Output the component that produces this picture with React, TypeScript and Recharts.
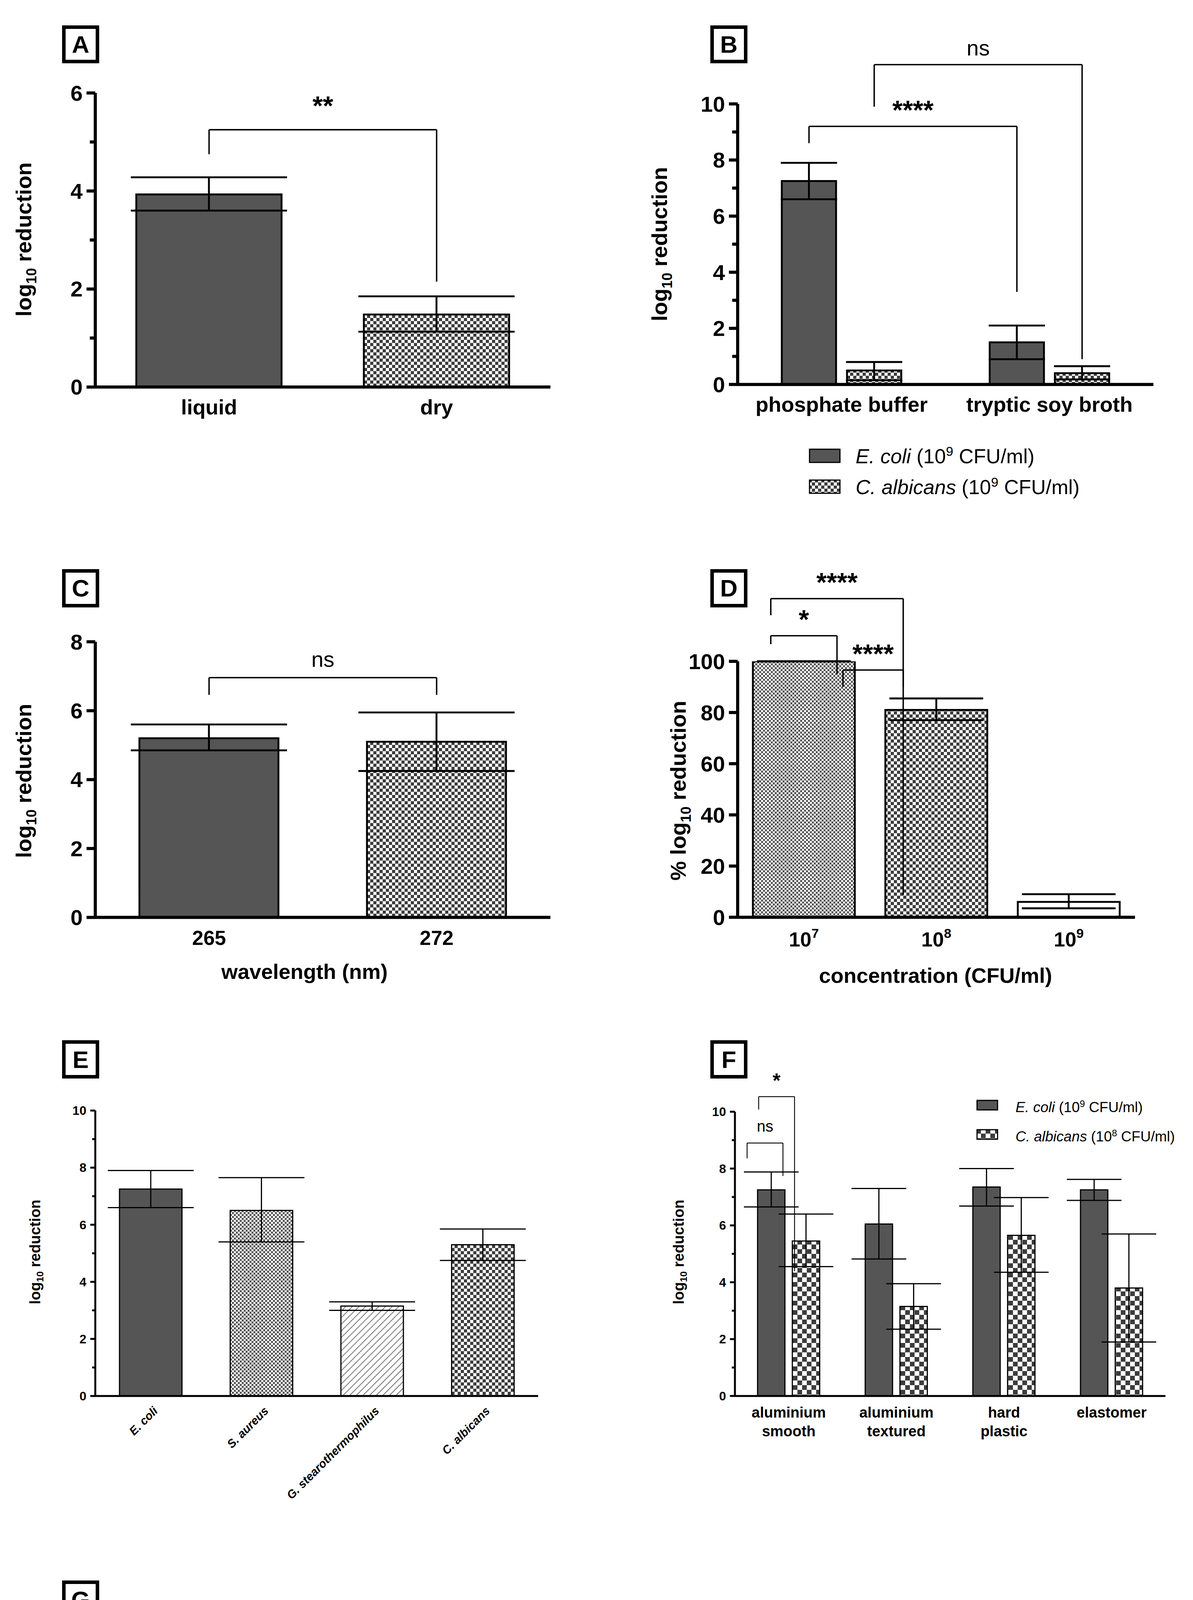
import React from 'react';
import { BarChart, Bar, XAxis, YAxis, ErrorBar, Cell, ReferenceLine, ReferenceDot } from 'recharts';

const S = 3.15;
const FONT = '"Liberation Sans", Arial, sans-serif';

// ---------- data ----------
const aCats = ['liquid', 'dry'];
const aVals = [3.93, 1.48];
const aLo = [3.6, 1.13];
const aHi = [4.28, 1.85];

const bCats = ['phosphate buffer', 'tryptic soy broth'];
const bEcoli = [7.25, 1.5];
const bEcoliLo = [6.6, 0.9];
const bEcoliHi = [7.9, 2.1];
const bCalb = [0.5, 0.4];
const bCalbLo = [0.15, 0.18];
const bCalbHi = [0.8, 0.65];

const cCats = ['265', '272'];
const cVals = [5.2, 5.1];
const cLo = [4.85, 4.25];
const cHi = [5.6, 5.95];

const dCats = ['7', '8', '9'];
const dVals = [100, 81, 6];
const dLo = [100, 77, 3.5];
const dHi = [100, 85.5, 9];

const eCats = ['E. coli', 'S. aureus', 'G. stearothermophilus', 'C. albicans'];
const eVals = [7.25, 6.5, 3.15, 5.3];
const eLo = [6.6, 5.4, 3.0, 4.75];
const eHi = [7.9, 7.65, 3.3, 5.85];

const fCats = ['aluminium\nsmooth', 'aluminium\ntextured', 'hard\nplastic', 'elastomer'];
const fEcoli = [7.25, 6.05, 7.35, 7.25];
const fEcoliLo = [6.65, 4.82, 6.68, 6.88];
const fEcoliHi = [7.88, 7.3, 8.0, 7.62];
const fCalb = [5.45, 3.15, 5.65, 3.8];
const fCalbLo = [4.55, 2.35, 4.35, 1.9];
const fCalbHi = [6.4, 3.95, 6.98, 5.7];

const gCats = ['without shading', 'with shading'];
const gVals = [7.45, 6.95];
const gLo = [6.9, 5.8];
const gHi = [8.0, 8.2];

const DARK = '#555555';

type Series = { vals: number[]; lo: number[]; hi: number[]; fills: string[] };
type Bracket = { a: [number, number]; b: [number, number]; top: number; y1: number; y2: number; text: string; ty: number; fs: number; bold?: boolean };

function Panel(p: {
  plot: [number, number, number, number];
  cats: string[];
  series: Series[];
  yMax: number;
  ticks: number[];
  major: (v: number) => boolean;
  barSize: number;
  barGap?: number;
  brackets?: Bracket[];
  tickFs: number;
  axisW: number;
  capW: number;
  xTick: (props: any) => any;
}) {
  const [l, t, r, b] = p.plot.map((v) => v * S);
  const M = 320;
  const W = r - l + 2 * M;
  const H = b - t + 2 * M;
  const n = p.cats.length;
  const band = (r - l) / n;
  const gap = p.barGap ?? 0;
  const ns = p.series.length;
  const pos = (c: number, s: number) => {
    if (ns === 1) return (c + 0.5) / n;
    const off = ((s === 0 ? -1 : 1) * (p.barSize + gap)) / 2;
    return (c + 0.5 + off / band) / n;
  };
  const data = p.cats.map((name, i) => {
    const row: any = { name };
    p.series.forEach((s, k) => {
      row['v' + k] = s.vals[i];
      row['e' + k] = [s.vals[i] - s.lo[i], s.hi[i] - s.vals[i]];
    });
    return row;
  });
  const YTick = (props: any) => {
    const { x, y, payload } = props;
    const maj = p.major(payload.value);
    const tl = maj ? p.tickFs * 0.4 : p.tickFs * 0.25;
    return (
      <g>
        <line x1={x} x2={x - tl} y1={y} y2={y} stroke="#000" strokeWidth={p.axisW} />
        {maj && (
          <text x={x - tl - 10} y={y} dy="0.35em" textAnchor="end" fontSize={p.tickFs} fontWeight="bold" fontFamily={FONT} fill="#000">
            {payload.value}
          </text>
        )}
      </g>
    );
  };
  return (
    <div style={{ position: 'absolute', left: l - M, top: t - M }}>
      <BarChart width={W} height={H} data={data} margin={{ top: M, left: M - 1, right: M, bottom: M - 1 }} barGap={gap} barCategoryGap={0}>
        <XAxis dataKey="name" height={1} tickSize={0} tickMargin={0} interval={0} axisLine={{ stroke: '#000', strokeWidth: p.axisW }} tickLine={false} tick={p.xTick} />
        <XAxis xAxisId="n" type="number" domain={[0, 1]} hide allowDataOverflow />
        <YAxis width={1} domain={[0, p.yMax]} ticks={p.ticks} interval={0} allowDataOverflow tickSize={0} tickMargin={0} tickLine={false} axisLine={{ stroke: '#000', strokeWidth: p.axisW }} tick={YTick} />
        {p.series.map((s, k) => (
          <Bar key={k} dataKey={'v' + k} barSize={p.barSize} isAnimationActive={false} stroke="#000" strokeWidth={p.axisW * 0.6}>
            {p.cats.map((_, i) => (
              <Cell key={i} fill={s.fills[i % s.fills.length]} />
            ))}
            <ErrorBar dataKey={'e' + k} width={p.capW} stroke="#000" strokeWidth={p.axisW * 0.6} direction="y" />
          </Bar>
        ))}
        {(p.brackets || []).flatMap((br, j) => {
          const xa = pos(br.a[0], br.a[1]);
          const xb = pos(br.b[0], br.b[1]);
          const sw = p.axisW * 0.45;
          return [
            <ReferenceLine key={'l' + j} xAxisId="n" ifOverflow="visible" stroke="#000" strokeWidth={sw} segment={[{ x: xa, y: br.y1 }, { x: xa, y: br.top }]} />,
            <ReferenceLine key={'t' + j} xAxisId="n" ifOverflow="visible" stroke="#000" strokeWidth={sw} segment={[{ x: xa, y: br.top }, { x: xb, y: br.top }]} />,
            <ReferenceLine key={'r' + j} xAxisId="n" ifOverflow="visible" stroke="#000" strokeWidth={sw} segment={[{ x: xb, y: br.top }, { x: xb, y: br.y2 }]} />,
            <ReferenceDot key={'d' + j} xAxisId="n" ifOverflow="visible" x={(xa + xb) / 2} y={br.ty} r={0} stroke="none" fill="none"
              label={{ value: br.text, position: 'center', fontSize: br.fs, fontWeight: br.bold ? 'bold' : 'normal', fill: '#000', fontFamily: FONT }} />,
          ];
        })}
      </BarChart>
    </div>
  );
}

const simpleXTick = (fs: number, dy: number) => (props: any) => (
  <text x={props.x} y={props.y + dy} textAnchor="middle" fontSize={fs} fontWeight="bold" fontFamily={FONT} fill="#000">
    {props.payload.value}
  </text>
);

const dXTick = (props: any) => (
  <text x={props.x} y={props.y + 75} textAnchor="middle" fontSize={52} fontWeight="bold" fontFamily={FONT} fill="#000">
    10<tspan dy={-22} fontSize={34}>{props.payload.value}</tspan>
  </text>
);

const eXTick = (props: any) => (
  <text x={props.x + 20} y={props.y + 40} textAnchor="end" transform={`rotate(-45 ${props.x + 20} ${props.y + 40})`} fontSize={30} fontWeight="bold" fontStyle="italic" fontFamily={FONT} fill="#000">
    {props.payload.value}
  </text>
);

const fXTick = (props: any) => {
  const lines = String(props.payload.value).split('\n');
  return (
    <text x={props.x} y={props.y + 55} textAnchor="middle" fontSize={38} fontWeight="bold" fontFamily={FONT} fill="#000">
      {lines.map((ln, i) => (
        <tspan key={i} x={props.x} dy={i === 0 ? 0 : 48}>{ln}</tspan>
      ))}
    </text>
  );
};

function Box({ x, y, letter }: { x: number; y: number; letter: string }) {
  return (
    <div style={{ position: 'absolute', left: x * S, top: y * S, width: 30 * S, height: 31 * S, boxSizing: 'border-box', border: '9px solid #000', display: 'flex', alignItems: 'center', justifyContent: 'center', fontFamily: FONT, fontWeight: 'bold', fontSize: 62 }}>
      {letter}
    </div>
  );
}

function VTitle({ x, y, fs, bold = true, pct = false }: { x: number; y: number; fs: number; bold?: boolean; pct?: boolean }) {
  return (
    <div style={{ position: 'absolute', left: x * S, top: y * S, transform: 'translate(-50%,-50%) rotate(-90deg)', whiteSpace: 'nowrap', fontFamily: FONT, fontWeight: bold ? 'bold' : 'normal', fontSize: fs }}>
      {pct ? '% ' : ''}log<sub style={{ fontSize: fs * 0.65 }}>10</sub> reduction
    </div>
  );
}

function HText({ x, y, fs, children, bold = true, center = true }: any) {
  return (
    <div style={{ position: 'absolute', left: x * S, top: y * S, transform: center ? 'translate(-50%,-50%)' : 'translate(0,-50%)', whiteSpace: 'nowrap', fontFamily: FONT, fontWeight: bold ? 'bold' : 'normal', fontSize: fs }}>
      {children}
    </div>
  );
}

function Swatch({ x, y, w, h, fill }: any) {
  return (
    <svg style={{ position: 'absolute', left: x * S, top: y * S }} width={w * S} height={h * S}>
      <rect x={2} y={2} width={w * S - 4} height={h * S - 4} fill={fill} stroke="#000" strokeWidth={3} />
    </svg>
  );
}

export default function App() {
  const A4 = [0, 1, 2, 3, 4, 5, 6];
  const ten = [0, 1, 2, 3, 4, 5, 6, 7, 8, 9, 10];
  const even = (v: number) => v % 2 === 0;
  return (
    <div style={{ position: 'relative', width: 3055, height: 4900, background: '#fff', overflow: 'hidden' }}>
      <svg width={0} height={0} style={{ position: 'absolute' }}>
        <defs>
          <pattern id="chk" width={16} height={16} patternUnits="userSpaceOnUse">
            <rect width={16} height={16} fill="#fff" />
            <rect width={8} height={8} fill="#3c3c3c" />
            <rect x={8} y={8} width={8} height={8} fill="#3c3c3c" />
          </pattern>
          <pattern id="fine" width={10} height={10} patternUnits="userSpaceOnUse">
            <rect width={10} height={10} fill="#fff" />
            <rect width={5} height={5} fill="#555" />
            <rect x={5} y={5} width={5} height={5} fill="#555" />
          </pattern>
          <pattern id="big" width={24} height={24} patternUnits="userSpaceOnUse">
            <rect width={24} height={24} fill="#fff" />
            <rect width={12} height={12} fill="#3c3c3c" />
            <rect x={12} y={12} width={12} height={12} fill="#3c3c3c" />
          </pattern>
          <pattern id="hatch" width={12} height={12} patternUnits="userSpaceOnUse" patternTransform="rotate(45)">
            <rect width={12} height={12} fill="#fff" />
            <line x1={0} y1={0} x2={0} y2={12} stroke="#444" strokeWidth={3} />
          </pattern>
        </defs>
      </svg>

      {/* A */}
      <Box x={48} y={18} letter="A" />
      <VTitle x={18} y={192} fs={56} />
      <Panel plot={[75, 73, 445, 312]} cats={aCats} series={[{ vals: aVals, lo: aLo, hi: aHi, fills: [DARK, 'url(#chk)'] }]}
        yMax={6} ticks={A4} major={even} barSize={372} tickFs={56} axisW={8} capW={200} xTick={simpleXTick(54, 70)}
        brackets={[{ a: [0, 0], b: [1, 0], top: 5.25, y1: 4.75, y2: 2.15, text: '**', ty: 5.75, fs: 68, bold: true }]} />

      {/* B */}
      <Box x={575} y={18} letter="B" />
      <VTitle x={535} y={196} fs={56} />
      <Panel plot={[597, 82, 935, 310]} cats={bCats}
        series={[
          { vals: bEcoli, lo: bEcoliLo, hi: bEcoliHi, fills: [DARK] },
          { vals: bCalb, lo: bCalbLo, hi: bCalbHi, fills: ['url(#chk)'] },
        ]}
        yMax={10} ticks={ten} major={even} barSize={139} barGap={28} tickFs={56} axisW={8} capW={72} xTick={simpleXTick(54, 70)}
        brackets={[
          { a: [0, 0], b: [1, 0], top: 9.2, y1: 8.6, y2: 3.3, text: '****', ty: 9.8, fs: 68, bold: true },
          { a: [0, 1], b: [1, 1], top: 11.4, y1: 9.9, y2: 0.9, text: 'ns', ty: 12.0, fs: 56 },
        ]} />
      <Swatch x={655} y={362} w={26} h={12} fill={DARK} />
      <HText x={693} y={368} fs={52} bold={false} center={false}><i>E. coli</i> (10<sup style={{ fontSize: 34 }}>9</sup> CFU/ml)</HText>
      <Swatch x={655} y={387} w={26} h={12} fill="url(#chk)" />
      <HText x={693} y={393} fs={52} bold={false} center={false}><i>C. albicans</i> (10<sup style={{ fontSize: 34 }}>9</sup> CFU/ml)</HText>

      {/* C */}
      <Box x={48} y={460} letter="C" />
      <VTitle x={18} y={632} fs={56} />
      <Panel plot={[75, 519, 445, 743]} cats={cCats} series={[{ vals: cVals, lo: cLo, hi: cHi, fills: [DARK, 'url(#chk)'] }]}
        yMax={8} ticks={[0, 2, 4, 6, 8]} major={() => true} barSize={356} tickFs={56} axisW={8} capW={200} xTick={simpleXTick(52, 70)}
        brackets={[{ a: [0, 0], b: [1, 0], top: 6.96, y1: 6.46, y2: 6.46, text: 'ns', ty: 7.5, fs: 56 }]} />
      <HText x={245} y={787} fs={54}>wavelength (nm)</HText>

      {/* D */}
      <Box x={575} y={460} letter="D" />
      <VTitle x={550} y={640} fs={56} pct />
      <Panel plot={[597, 535, 920, 743]} cats={dCats} series={[{ vals: dVals, lo: dLo, hi: dHi, fills: ['url(#fine)', 'url(#chk)', '#fff'] }]}
        yMax={100} ticks={[0, 20, 40, 60, 80, 100]} major={() => true} barSize={261} tickFs={56} axisW={8} capW={120} xTick={dXTick}
        brackets={[
          { a: [0, 0], b: [2, 0], top: 124.5, y1: 118, y2: 90, text: '****', ty: 131, fs: 68, bold: true },
          { a: [0, 0], b: [1, 0], top: 110, y1: 106.7, y2: 95, text: '*', ty: 116.5, fs: 68, bold: true },
          { a: [1.09, 0], b: [2, 0], top: 96.6, y1: 90, y2: 8.7, text: '****', ty: 103, fs: 68, bold: true },
        ]} />
      <HText x={758} y={790} fs={54}>concentration (CFU/ml)</HText>

      {/* E */}
      <Box x={48} y={843} letter="E" />
      <VTitle x={27} y={1015} fs={38} />
      <Panel plot={[75, 900, 435, 1132]} cats={eCats} series={[{ vals: eVals, lo: eLo, hi: eHi, fills: [DARK, 'url(#fine)', 'url(#hatch)', 'url(#chk)'] }]}
        yMax={10} ticks={ten} major={even} barSize={160} tickFs={32} axisW={5} capW={110} xTick={eXTick} />

      {/* F */}
      <Box x={575} y={843} letter="F" />
      <VTitle x={550} y={1015} fs={38} />
      <Panel plot={[595, 901, 945, 1132]} cats={fCats}
        series={[
          { vals: fEcoli, lo: fEcoliLo, hi: fEcoliHi, fills: [DARK] },
          { vals: fCalb, lo: fCalbLo, hi: fCalbHi, fills: ['url(#big)'] },
        ]}
        yMax={10} ticks={ten} major={even} barSize={70} barGap={19} tickFs={32} axisW={5} capW={70} xTick={fXTick}
        brackets={[
          { a: [0, 0], b: [1, 0], top: 8.9, y1: 8.36, y2: 7.74, text: 'ns', ty: 9.5, fs: 40 },
          { a: [0, 1], b: [1, 1], top: 10.53, y1: 10.08, y2: 4.39, text: '*', ty: 11.1, fs: 52, bold: true },
        ]} />
      <Swatch x={791} y={891} w={18} h={9} fill={DARK} />
      <HText x={823} y={897} fs={37} bold={false} center={false}><i>E. coli</i> (10<sup style={{ fontSize: 24 }}>9</sup> CFU/ml)</HText>
      <Swatch x={791} y={915} w={18} h={9} fill="url(#big)" />
      <HText x={823} y={921} fs={37} bold={false} center={false}><i>C. albicans</i> (10<sup style={{ fontSize: 24 }}>8</sup> CFU/ml)</HText>

      {/* G */}
      <Box x={48} y={1282} letter="G" />
      <VTitle x={33} y={1430} fs={38} />
      <Panel plot={[75, 1340, 362, 1520]} cats={gCats} series={[{ vals: gVals, lo: gLo, hi: gHi, fills: [DARK, 'url(#chk)'] }]}
        yMax={10} ticks={ten} major={even} barSize={255} tickFs={34} axisW={5} capW={130} xTick={simpleXTick(38, 50)}
        brackets={[{ a: [0, 0], b: [1, 0], top: 9.28, y1: 8.55, y2: 8.55, text: 'ns', ty: 10.1, fs: 44 }]} />
    </div>
  );
}
